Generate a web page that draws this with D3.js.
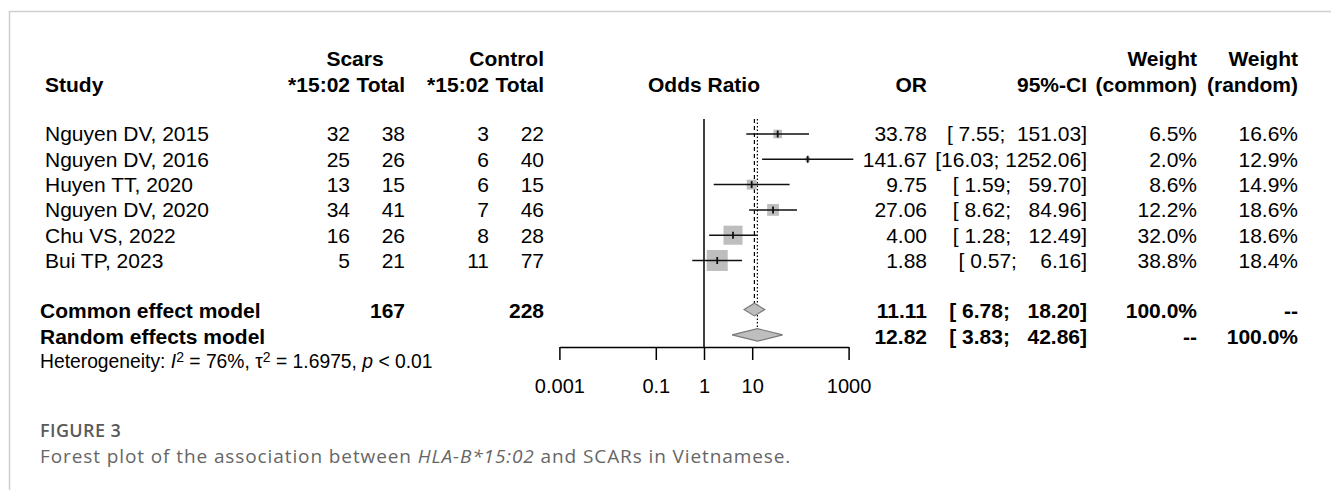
<!DOCTYPE html>
<html>
<head>
<meta charset="utf-8">
<script src="https://cdn.jsdelivr.net/npm/d3@7"></script>
<style>
	html, body { margin: 0; padding: 0; background: #fff; }
	svg { display: block; }
	.tbl { font-family: "Liberation Sans", Arial, sans-serif; font-size: 21px; fill: #000; }
	.bold { font-weight: bold; }
	.cap { font-family: "Open Sans", sans-serif; }
</style>
</head>
<body>
<svg id="chart" width="1331" height="490"></svg>
<script>
// --- data ---
var studies = ["Nguyen DV, 2015", "Nguyen DV, 2016", "Huyen TT, 2020", "Nguyen DV, 2020", "Chu VS, 2022", "Bui TP, 2023"];
var scarsEvents = [32, 25, 13, 34, 16, 5];
var scarsTotal = [38, 26, 15, 41, 26, 21];
var ctrlEvents = [3, 6, 6, 7, 8, 11];
var ctrlTotal = [22, 40, 15, 46, 28, 77];
var orValues = [33.78, 141.67, 9.75, 27.06, 4.00, 1.88];
var ciLower = [7.55, 16.03, 1.59, 8.62, 1.28, 0.57];
var ciUpper = [151.03, 1252.06, 59.70, 84.96, 12.49, 6.16];
var weightCommon = [6.5, 2.0, 8.6, 12.2, 32.0, 38.8];
var weightRandom = [16.6, 12.9, 14.9, 18.6, 18.6, 18.4];

var modelNames = ["Common effect model", "Random effects model"];
var modelOR = [11.11, 12.82];
var modelLower = [6.78, 3.83];
var modelUpper = [18.20, 42.86];
var modelWCommon = ["100.0%", "--"];
var modelWRandom = ["--", "100.0%"];
var totalScars = 167;
var totalCtrl = 228;

var axisTicks = [0.001, 0.1, 1, 10, 1000];

var svg = d3.select("#chart");

// frame around the figure
svg.append("path")
	.attr("d", "M9.5,490 L9.5,11.5 L1331,11.5")
	.attr("fill", "none")
	.attr("stroke", "#cfcfcf")
	.attr("stroke-width", 1.5);

var x = d3.scaleLog().domain([0.001, 1000]).range([559.4, 848.6]);
var rowY = d3.scaleLinear().domain([0, 1]).range([134, 159.3]);

var col = {
	study: 45,
	scE: 350, scN: 405,
	coE: 489, coN: 544,
	or: 927, ci: 1087,
	wc: 1197, wr: 1298
};

function fmt2(v) { return v.toFixed(2); }
function fmtCI(lo, hi) {
	// R pads the bounds to a common width
	var a = fmt2(lo), b = fmt2(hi);
	return "[" + (a.length < 5 ? " " : "") + a + "; " + " ".repeat(Math.max(0, 7 - b.length)) + b + "]";
}

function addText(g, txt, xx, yy, anchor, cls) {
	return g.append("text")
		.attr("class", "tbl" + (cls ? " " + cls : ""))
		.attr("x", xx)
		.attr("y", yy)
		.attr("dy", "0.35em")
		.attr("text-anchor", anchor)
		.style("white-space", "pre")
		.text(txt);
}

// --- header ---
var head = svg.append("g");
addText(head, "Scars", 355, 59, "middle", "bold");
addText(head, "Control", col.coN, 59, "end", "bold");
addText(head, "Weight", col.wc, 59, "end", "bold");
addText(head, "Weight", col.wr, 59, "end", "bold");
addText(head, "Study", col.study, 85, "start", "bold");
addText(head, "*15:02", col.scE, 85, "end", "bold");
addText(head, "Total", col.scN, 85, "end", "bold");
addText(head, "*15:02", col.coE, 85, "end", "bold");
addText(head, "Total", col.coN, 85, "end", "bold");
addText(head, "Odds Ratio", x(1), 85, "middle", "bold");
addText(head, "OR", col.or, 85, "end", "bold");
addText(head, "95%-CI", col.ci, 85, "end", "bold");
addText(head, "(common)", col.wc, 85, "end", "bold");
addText(head, "(random)", col.wr, 85, "end", "bold");

// --- study rows ---
var rows = svg.append("g");
studies.forEach(function(s, i) {
	var y = rowY(i);
	addText(rows, s, col.study, y, "start");
	addText(rows, scarsEvents[i], col.scE, y, "end");
	addText(rows, scarsTotal[i], col.scN, y, "end");
	addText(rows, ctrlEvents[i], col.coE, y, "end");
	addText(rows, ctrlTotal[i], col.coN, y, "end");
	addText(rows, fmt2(orValues[i]), col.or, y, "end");
	addText(rows, fmtCI(ciLower[i], ciUpper[i]), col.ci, y, "end");
	addText(rows, weightCommon[i].toFixed(1) + "%", col.wc, y, "end");
	addText(rows, weightRandom[i].toFixed(1) + "%", col.wr, y, "end");
});

// --- model rows ---
modelNames.forEach(function(m, k) {
	var y = rowY(7 + k);
	addText(rows, m, 40, y, "start", "bold");
	if (k === 0) {
		addText(rows, totalScars, col.scN, y, "end", "bold");
		addText(rows, totalCtrl, col.coN, y, "end", "bold");
	}
	addText(rows, fmt2(modelOR[k]), col.or, y, "end", "bold");
	addText(rows, fmtCI(modelLower[k], modelUpper[k]), col.ci, y, "end", "bold");
	addText(rows, modelWCommon[k], col.wc, y, "end", "bold");
	addText(rows, modelWRandom[k], col.wr, y, "end", "bold");
});

// heterogeneity line
var het = rows.append("text")
	.attr("class", "tbl")
	.attr("x", 40)
	.attr("y", rowY(9))
	.attr("dy", "0.35em")
	.style("font-size", "19.3px");
het.append("tspan").text("Heterogeneity: ");
het.append("tspan").style("font-style", "italic").text("I");
het.append("tspan").attr("baseline-shift", "40%").style("font-size", "14px").text("2");
het.append("tspan").text(" = 76%, \u03c4");
het.append("tspan").attr("baseline-shift", "40%").style("font-size", "14px").text("2");
het.append("tspan").text(" = 1.6975, ");
het.append("tspan").style("font-style", "italic").text("p");
het.append("tspan").text(" < 0.01");

// --- plot ---
var plot = svg.append("g");
var topY = 119, axisY = 347;

plot.append("line")
	.attr("x1", x(1)).attr("x2", x(1))
	.attr("y1", topY).attr("y2", axisY)
	.attr("stroke", "#000").attr("stroke-width", 1.5);

var halfH = 6.3;
plot.append("line")
	.attr("x1", x(modelOR[0])).attr("x2", x(modelOR[0]))
	.attr("y1", topY).attr("y2", rowY(7) - halfH)
	.attr("stroke", "#000").attr("stroke-width", 1.2)
	.attr("stroke-dasharray", "4,3");
plot.append("line")
	.attr("x1", x(modelOR[1])).attr("x2", x(modelOR[1]))
	.attr("y1", topY).attr("y2", rowY(8) - halfH)
	.attr("stroke", "#000").attr("stroke-width", 1.2)
	.attr("stroke-dasharray", "1.5,2");

var maxW = d3.max(weightCommon);
var side = d3.scaleSqrt().domain([0, maxW]).range([0, 21]);

studies.forEach(function(s, i) {
	var y = rowY(i);
	var sz = side(weightCommon[i]);
	plot.append("rect")
		.attr("x", x(orValues[i]) - sz / 2)
		.attr("y", y - sz / 2)
		.attr("width", sz)
		.attr("height", sz)
		.attr("fill", "#bebebe");
	plot.append("line")
		.attr("x1", x(ciLower[i])).attr("x2", x(ciUpper[i]))
		.attr("y1", y).attr("y2", y)
		.attr("stroke", "#111").attr("stroke-width", 1.5);
	plot.append("line")
		.attr("x1", x(orValues[i])).attr("x2", x(orValues[i]))
		.attr("y1", y - 3.5).attr("y2", y + 3.5)
		.attr("stroke", "#111").attr("stroke-width", 1.8);
});

modelNames.forEach(function(m, k) {
	var y = rowY(7 + k) - 1.5;
	var pts = [
		[x(modelLower[k]), y],
		[x(modelOR[k]), y - halfH],
		[x(modelUpper[k]), y],
		[x(modelOR[k]), y + halfH]
	];
	plot.append("path")
		.attr("d", d3.line()(pts) + "Z")
		.attr("fill", "#bebebe")
		.attr("stroke", "#7a7a7a")
		.attr("stroke-width", 1.2);
});

// x axis
var axis = d3.axisBottom(x)
	.tickValues(axisTicks)
	.tickFormat(function(d) { return String(d); })
	.tickSize(13)
	.tickSizeOuter(0)
	.tickPadding(19);

var ax = plot.append("g")
	.attr("transform", "translate(0," + axisY + ")")
	.call(axis);
ax.select(".domain").attr("stroke", "#000").attr("stroke-width", 1.5);
ax.selectAll(".tick line").attr("stroke", "#000").attr("stroke-width", 1.5);
ax.selectAll(".tick text")
	.attr("fill", "#000")
	.style("font-family", "\"Liberation Sans\", Arial, sans-serif")
	.style("font-size", "20px");

// --- caption ---
svg.append("text")
	.attr("class", "cap")
	.attr("x", 40).attr("y", 431).attr("dy", "0.35em")
	.style("font-size", "18px")
	.style("font-weight", 600)
	.style("letter-spacing", "0.4px")
	.attr("fill", "#5a5a5a")
	.text("FIGURE 3");

var cap = svg.append("text")
	.attr("class", "cap")
	.attr("x", 40).attr("y", 456).attr("dy", "0.35em")
	.style("font-size", "19px")
	.style("letter-spacing", "0.9px")
	.attr("fill", "#666");
cap.append("tspan").text("Forest plot of the association between ");
cap.append("tspan").style("font-style", "italic").text("HLA-B*15:02");
cap.append("tspan").text(" and SCARs in Vietnamese.");
</script>
</body>
</html>
